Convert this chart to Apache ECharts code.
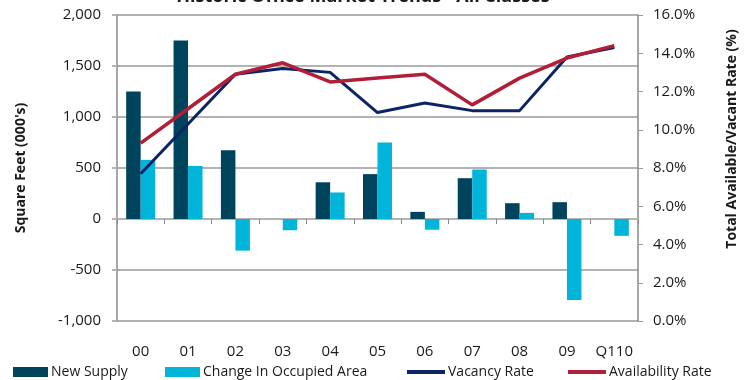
<!DOCTYPE html>
<html>
<head>
<meta charset="utf-8">
<script src="https://cdn.jsdelivr.net/npm/echarts@6/dist/echarts.min.js"></script>
<style>
  html, body { margin: 0; padding: 0; background: #fff; }
  #chart { width: 751px; height: 380px; }
</style>
</head>
<body>
<div id="chart"></div>
<script>
// categories (years)
const years = ['00', '01', '02', '03', '04', '05', '06', '07', '08', '09', 'Q110'];

// square feet (000's)
const newSupply = [1250, 1750, 675, null, 360, 440, 70, 400, 155, 165, null];
const changeOccupied = [580, 520, -310, -110, 260, 750, -105, 485, 60, -795, -165];

// rates (%)
const vacancyRate = [7.7, 10.3, 12.9, 13.2, 13.0, 10.9, 11.4, 11.0, 11.0, 13.8, 14.3];
const availabilityRate = [9.3, 11.1, 12.9, 13.5, 12.5, 12.7, 12.9, 11.3, 12.7, 13.75, 14.4];

const FONT = 'Open Sans';
const gridColor = '#b3b3b3';
const textColor = '#1a1a1a';

const chart = echarts.init(document.getElementById('chart'));

function legendAt(name, x, icon, w, h) {
  return {
    data: [name],
    left: x,
    top: 365,
    icon: icon,
    itemWidth: w,
    itemHeight: h,
    itemGap: 0,
    padding: 0,
    selectedMode: false,
    textStyle: { fontFamily: FONT, fontSize: 14, color: textColor, padding: [0, 0, 0, -2] }
  };
}

chart.setOption({
  animation: false,
  grid: { left: 117, right: 113, top: 15, bottom: 59, containLabel: false },
  legend: [
    legendAt('New Supply', 13, 'rect', 35, 10),
    legendAt('Change In Occupied Area', 165, 'rect', 35, 10),
    legendAt('Vacancy Rate', 407, 'rect', 38, 4),
    legendAt('Availability Rate', 568, 'rect', 38, 4)
  ],
  graphic: [
    {
      type: 'text', x: 363, y: 6,
      style: {
        text: 'Historic Office Market Trends - All Classes',
        font: 'bold 18px "' + FONT + '"', fill: textColor,
        textAlign: 'center', textVerticalAlign: 'bottom'
      }
    },
    {
      type: 'text', x: 21, y: 168, rotation: Math.PI / 2,
      style: {
        text: "Square Feet (000's)",
        font: 'bold 14px "' + FONT + '"', fill: textColor,
        textAlign: 'center', textVerticalAlign: 'middle'
      }
    },
    {
      type: 'text', x: 732, y: 139, rotation: Math.PI / 2,
      style: {
        text: 'Total Available/Vacant Rate (%)',
        font: 'bold 14px "' + FONT + '"', fill: textColor,
        textAlign: 'center', textVerticalAlign: 'middle'
      }
    }
  ],
  xAxis: [
    {
      type: 'category',
      data: years,
      position: 'bottom',
      axisLine: { onZero: true, lineStyle: { color: gridColor, width: 2 } },
      axisTick: { show: true, length: 5, lineStyle: { color: '#888', width: 1 } },
      axisLabel: { show: false },
      splitLine: { show: false }
    },
    {
      type: 'category',
      data: years,
      position: 'bottom',
      axisLine: { show: false },
      axisTick: { show: false },
      axisLabel: { interval: 0, margin: 23, fontFamily: FONT, fontSize: 15, color: textColor },
      splitLine: { show: false }
    }
  ],
  yAxis: [
    {
      type: 'value',
      min: -1000, max: 2000, interval: 500,
      axisLine: { show: true, lineStyle: { color: '#888', width: 1.5 } },
      axisTick: { show: true, length: 5, lineStyle: { color: gridColor, width: 2 } },
      axisLabel: {
        margin: 16, fontFamily: FONT, fontSize: 15, color: textColor,
        formatter: v => v.toLocaleString('en-US')
      },
      splitLine: { show: true, lineStyle: { color: gridColor, width: 2 } }
    },
    {
      type: 'value',
      position: 'right',
      min: 0, max: 16, interval: 2,
      axisLine: { show: true, lineStyle: { color: '#888', width: 1.5 } },
      axisTick: { show: true, length: 5, lineStyle: { color: '#999', width: 1 } },
      axisLabel: {
        margin: 15, fontFamily: FONT, fontSize: 15, color: textColor,
        formatter: v => v.toFixed(1) + '%'
      },
      splitLine: { show: false }
    }
  ],
  series: [
    {
      name: 'New Supply', type: 'bar', xAxisIndex: 0, yAxisIndex: 0,
      data: newSupply, barWidth: 14.5, barGap: 0,
      itemStyle: { color: '#00435c' }
    },
    {
      name: 'Change In Occupied Area', type: 'bar', xAxisIndex: 0, yAxisIndex: 0,
      data: changeOccupied, barWidth: 14.5, barGap: 0,
      itemStyle: { color: '#00b4da' }
    },
    {
      name: 'Vacancy Rate', type: 'line', xAxisIndex: 0, yAxisIndex: 1,
      data: vacancyRate, showSymbol: false, symbol: 'none',
      lineStyle: { color: '#0c2466', width: 3 },
      itemStyle: { color: '#0c2466' }
    },
    {
      name: 'Availability Rate', type: 'line', xAxisIndex: 0, yAxisIndex: 1,
      data: availabilityRate, showSymbol: false, symbol: 'none',
      lineStyle: { color: '#b01e37', width: 3.5 },
      itemStyle: { color: '#b01e37' }
    }
  ]
});
</script>
</body>
</html>
